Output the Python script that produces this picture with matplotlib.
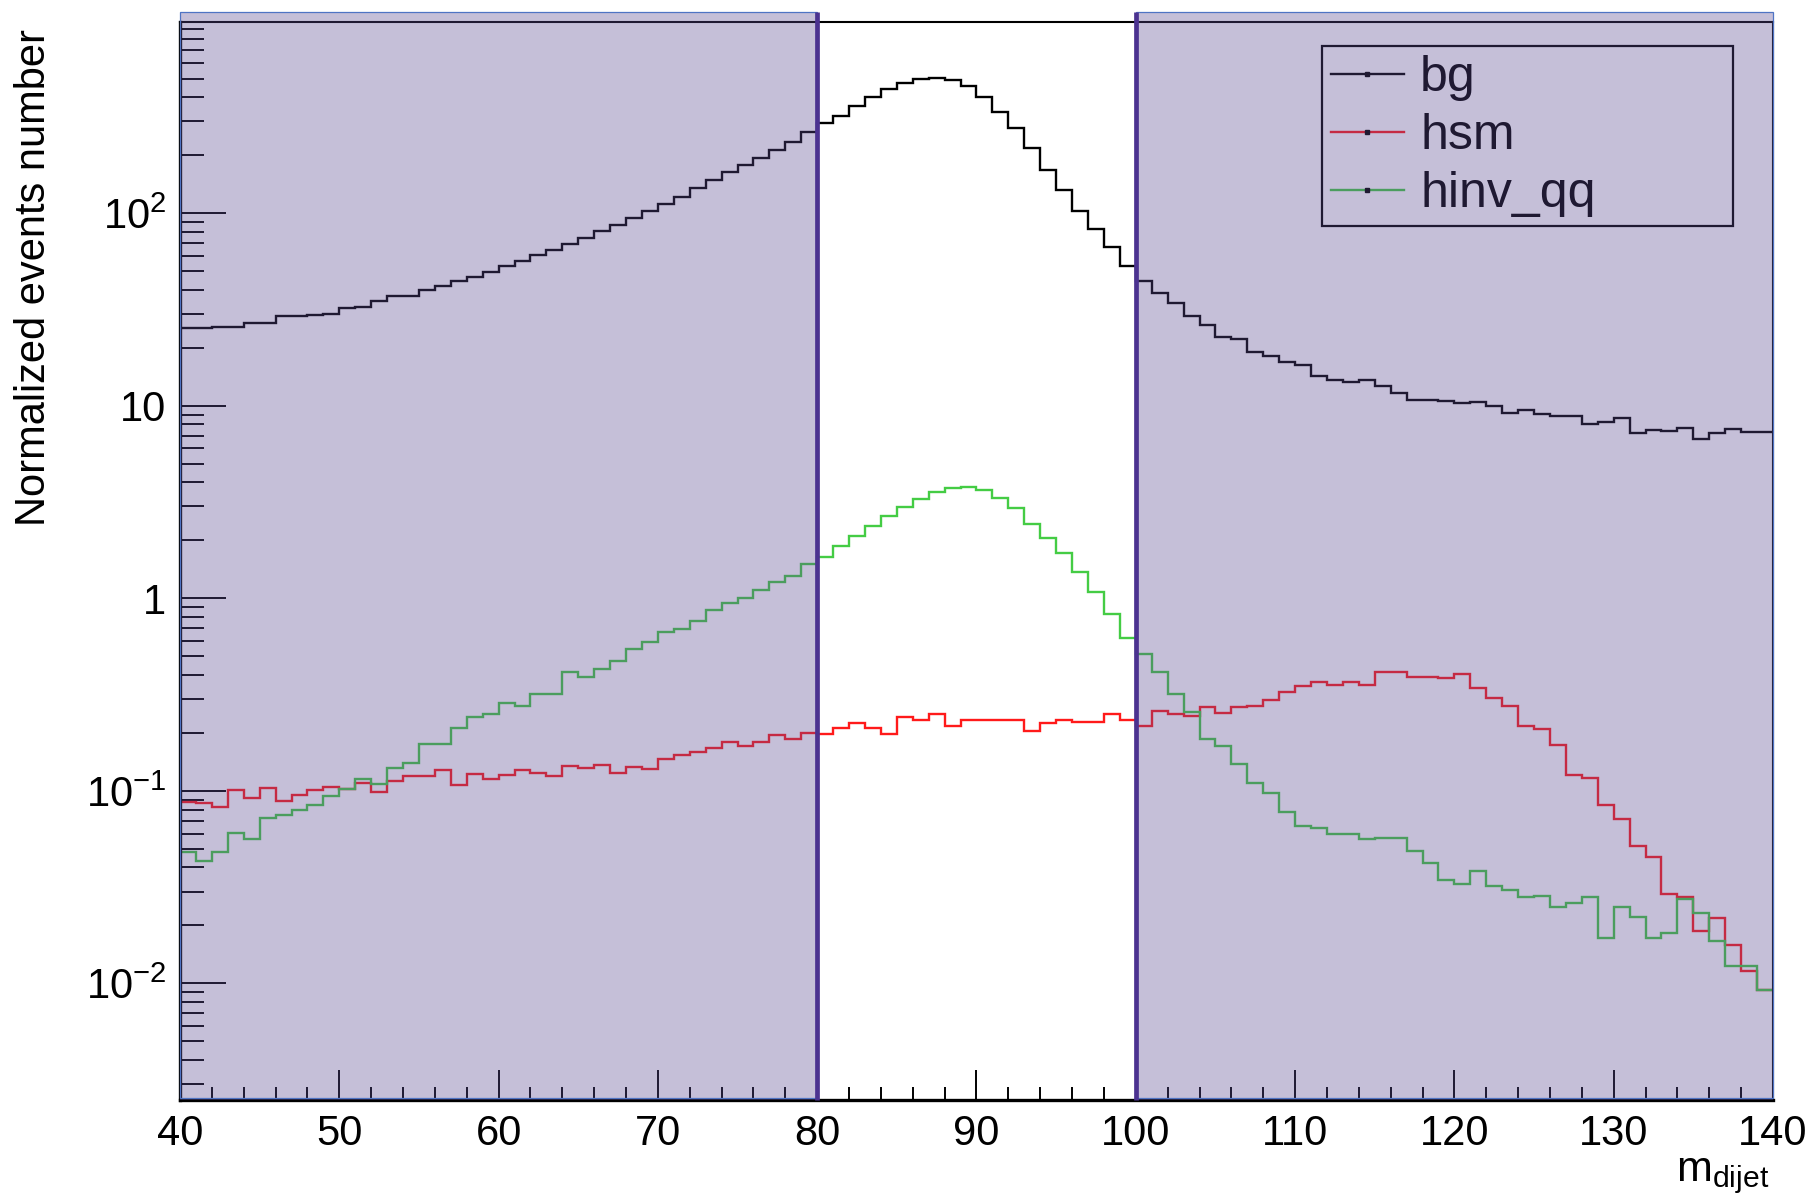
import numpy as np
import matplotlib
matplotlib.use("Agg")
import matplotlib.pyplot as plt
from matplotlib import font_manager
from matplotlib.lines import Line2D
from matplotlib.patches import Rectangle
from matplotlib.ticker import FixedLocator, FixedFormatter, NullFormatter

# binning of m_dijet: 100 bins of 1 GeV from 40 to 140
bin_lo, bin_hi, n_bins = 40, 140, 100
edges = np.linspace(bin_lo, bin_hi, n_bins + 1)

bg = [
    25.3, 25.3, 25.5, 25.5, 26.8, 26.8, 29.1, 29.3, 29.5, 29.8,
    32.1, 32.5, 34.8, 37.0, 37.3, 39.7, 41.9, 44.5, 46.9, 49.8,
    53.5, 56.5, 60.5, 64.5, 69.0, 74.0, 80.5, 87.0, 94.5, 103,
    112, 122, 135, 149, 163, 178, 193, 213, 235, 265,
    293, 320, 361, 400, 440, 477, 496, 506, 492, 458,
    400, 336, 276, 217, 168, 132, 103, 82.6, 66.6, 52.9,
    44.2, 38.4, 34.1, 29.1, 26.3, 22.7, 22.2, 19.1, 18.2, 16.8,
    16.3, 14.2, 13.6, 13.3, 13.6, 12.7, 11.7, 10.7, 10.7, 10.6,
    10.3, 10.4, 10.0, 9.2, 9.5, 9.1, 8.8, 8.9, 8.0, 8.2,
    8.6, 7.2, 7.5, 7.4, 7.7, 6.7, 7.2, 7.6, 7.3, 7.3,
]

hsm = [
    0.088, 0.086, 0.082, 0.1005, 0.0923, 0.103, 0.089, 0.0954, 0.1005, 0.105,
    0.102, 0.110, 0.099, 0.112, 0.119, 0.120, 0.128, 0.107, 0.122, 0.115,
    0.121, 0.129, 0.124, 0.119, 0.135, 0.131, 0.137, 0.124, 0.133, 0.130,
    0.147, 0.154, 0.159, 0.166, 0.179, 0.172, 0.180, 0.194, 0.185, 0.199,
    0.197, 0.211, 0.225, 0.211, 0.197, 0.241, 0.234, 0.251, 0.216, 0.234,
    0.232, 0.234, 0.232, 0.205, 0.225, 0.234, 0.229, 0.228, 0.251, 0.232,
    0.218, 0.261, 0.251, 0.244, 0.271, 0.255, 0.271, 0.277, 0.297, 0.327,
    0.351, 0.366, 0.353, 0.366, 0.353, 0.416, 0.416, 0.392, 0.392, 0.384,
    0.404, 0.341, 0.303, 0.276, 0.216, 0.209, 0.173, 0.121, 0.116, 0.0844,
    0.0711, 0.0516, 0.0455, 0.0291, 0.0282, 0.0188, 0.0218, 0.0158, 0.0116, 0.0092,
]

hinv_qq = [
    0.0484, 0.043, 0.0484, 0.0607, 0.0561, 0.0721, 0.075, 0.0796, 0.0846, 0.0935,
    0.102, 0.115, 0.108, 0.131, 0.140, 0.175, 0.175, 0.211, 0.241, 0.251,
    0.286, 0.275, 0.318, 0.318, 0.412, 0.391, 0.429, 0.473, 0.544, 0.596,
    0.671, 0.691, 0.763, 0.870, 0.950, 1.00, 1.11, 1.22, 1.31, 1.50,
    1.64, 1.87, 2.10, 2.37, 2.69, 2.98, 3.26, 3.56, 3.74, 3.79,
    3.64, 3.32, 2.95, 2.44, 2.06, 1.72, 1.37, 1.08, 0.826, 0.625,
    0.513, 0.415, 0.318, 0.258, 0.187, 0.172, 0.138, 0.110, 0.097, 0.078,
    0.0653, 0.064, 0.0598, 0.0598, 0.0561, 0.0566, 0.0566, 0.0489, 0.042, 0.0344,
    0.033, 0.0385, 0.0321, 0.0305, 0.028, 0.0286, 0.0248, 0.0262, 0.028, 0.0173,
    0.0248, 0.0222, 0.0173, 0.0182, 0.0273, 0.0231, 0.0166, 0.0123, 0.0123, 0.0092,
]

series = [("bg", bg, "black"), ("hsm", hsm, "#ff1a1a"), ("hinv_qq", hinv_qq, "#44cc44")]

# excluded (shaded) windows
windows = [(40, 80), (100, 140)]

xticks = [40, 50, 60, 70, 80, 90, 100, 110, 120, 130, 140]
yticks = [1e-2, 1e-1, 1, 10, 1e2]
ytick_labels = [r"$\mathregular{10^{-2}}$", r"$\mathregular{10^{-1}}$", "1", "10",
                r"$\mathregular{10^{2}}$"]
ylim = (2.48e-3, 990)

names = {f.name for f in font_manager.fontManager.ttflist}
narrow = "Liberation Sans Narrow" if "Liberation Sans Narrow" in names else "Liberation Sans"
plt.rcParams["font.family"] = [narrow, "DejaVu Sans"]
plt.rcParams["mathtext.fontset"] = "custom"
plt.rcParams["mathtext.rm"] = narrow
plt.rcParams["mathtext.it"] = narrow

fig = plt.figure(figsize=(18.19, 12.04), dpi=100)
ax = fig.add_axes([0.09895, 0.08638, 0.87576, 0.89576])

for name, vals, color in series:
    ax.stairs(vals, edges, baseline=None, color=color, lw=1.7, zorder=2)

ax.set_yscale("log")
ax.set_xlim(bin_lo, bin_hi)
ax.set_ylim(*ylim)

ax.xaxis.set_major_locator(FixedLocator(xticks))
ax.xaxis.set_minor_locator(FixedLocator(np.arange(bin_lo, bin_hi + 1, 2)))
ax.yaxis.set_major_locator(FixedLocator(yticks))
ax.yaxis.set_major_formatter(FixedFormatter(ytick_labels))
minor_y = [m * 10.0 ** e for e in range(-3, 3) for m in range(2, 10)]
ax.yaxis.set_minor_locator(FixedLocator(minor_y))
ax.yaxis.set_minor_formatter(NullFormatter())

ax.tick_params(axis="x", which="both", direction="in", top=False, labelsize=30, pad=10,
               width=1.4, color="black")
ax.tick_params(axis="x", which="major", length=21.5)
ax.tick_params(axis="x", which="minor", length=9.5)
ax.tick_params(axis="y", which="both", direction="in", right=False, labelsize=30, pad=10,
               width=1.4, color="black")
ax.tick_params(axis="y", which="major", length=33)
ax.tick_params(axis="y", which="minor", length=17)

for side in ["left", "bottom"]:
    ax.spines[side].set_linewidth(2.4)
for side in ["top", "right"]:
    ax.spines[side].set_linewidth(1.5)

handles = [Line2D([], [], color=c, lw=1.7, marker="s", markersize=2.2,
                  markerfacecolor="black", markeredgecolor="black") for _, _, c in series]
leg = ax.legend(handles, [s[0] for s in series], loc="upper left",
                bbox_to_anchor=(0.717, 0.977, 0.258, 0.0), mode="expand",
                prop={"family": ["Liberation Sans", "DejaVu Sans"], "size": 36},
                numpoints=1, handlelength=1.45, handletextpad=0.33, labelspacing=0.24,
                borderpad=0.18, borderaxespad=0.0, fancybox=False, framealpha=1.0,
                facecolor="white", edgecolor="black")
leg.get_frame().set_linewidth(1.6)
leg.set_zorder(5)

# shaded side-band windows drawn over everything, as in the original canvas
trans = ax.get_xaxis_transform()
for lo, hi in windows:
    ax.add_patch(Rectangle((lo, 0), hi - lo, 1.0084, transform=trans, facecolor="#594890",
                           alpha=0.35, edgecolor="none", zorder=6, clip_on=False))
    ax.add_patch(Rectangle((lo, 0.002), hi - lo, 1.0064, transform=trans, facecolor="none",
                           edgecolor="#4f74c4", lw=0.9, zorder=6.5, clip_on=False))
for x in [80, 100]:
    ax.plot([x, x], [0, 1.0084], transform=trans, color="#4b3290", lw=3.4,
            zorder=7, clip_on=False, solid_capstyle="butt")

fig.text(34 / 1819, 1 - 29 / 1204, "Normalized events number", rotation=90,
         ha="center", va="top", fontsize=30)
fig.text(1769 / 1819, (1204 - 1181) / 1204, r"m$_{\mathregular{dijet}}$",
         ha="right", va="baseline", fontsize=31)

fig.savefig("out.png", dpi=100)
